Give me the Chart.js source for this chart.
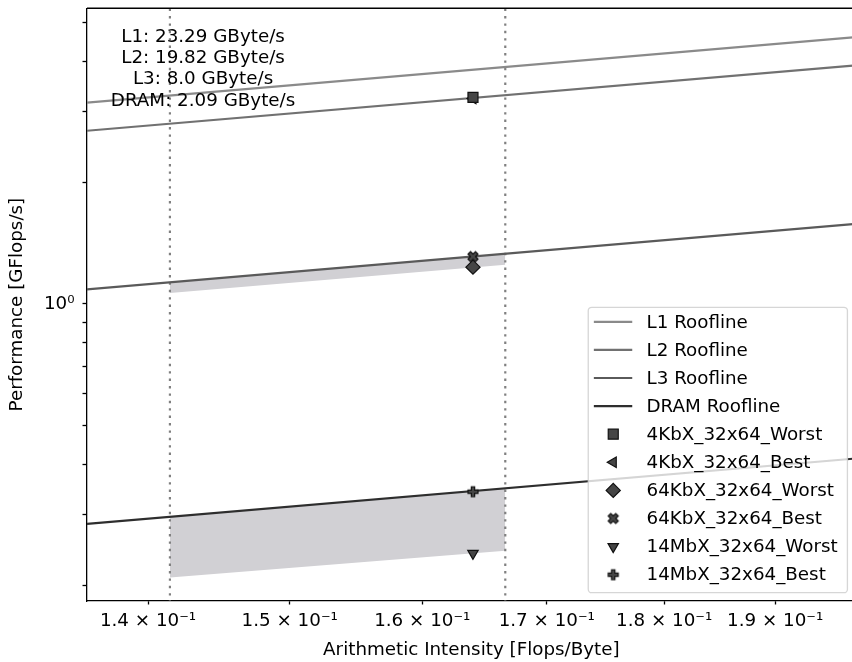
<!DOCTYPE html>
<html>
<head>
<meta charset="utf-8">
<script src="https://cdn.jsdelivr.net/npm/chart.js@4.4.1/dist/chart.umd.min.js"></script>
<style>
html, body { margin: 0; padding: 0; overflow: hidden; background: #fff; }
canvas { display: block; }
</style>
</head>
<body>
<canvas id="roofline" width="864" height="662" style="width:864px;height:662px"></canvas>
<script>
const FONT = 'DejaVu Sans';
const FS = 18.3;

// axes
const xMin = 0.1359, xMax = 0.1976;
const yMin = 0.1827, yMax = 5.43;
const xTickValues = [0.14, 0.15, 0.16, 0.17, 0.18, 0.19];
const xTickLabels = ['1.4 × 10⁻¹', '1.5 × 10⁻¹', '1.6 × 10⁻¹', '1.7 × 10⁻¹', '1.8 × 10⁻¹', '1.9 × 10⁻¹'];
const yTickValues = [0.2, 0.3, 0.4, 0.5, 0.6, 0.7, 0.8, 0.9, 1, 2, 3, 4, 5];
const yTickLabels = ['', '', '', '', '', '', '', '', '10⁰', '', '', '', ''];

// rooflines (performance at both ends of the x axis)
const roofNames = ['L1 Roofline', 'L2 Roofline', 'L3 Roofline', 'DRAM Roofline'];
const roofColors = ['#8a8a8a', '#717171', '#5a5a5a', '#2e2e2e'];
const roofX = [0.1359, 0.1976];
const roofL1 = [3.165, 4.602];
const roofL2 = [2.694, 3.916];
const roofL3 = [1.087, 1.581];
const roofDRAM = [0.284, 0.413];
const bandwidthText = ['L1: 23.29 GByte/s', 'L2: 19.82 GByte/s', 'L3: 8.0 GByte/s', 'DRAM: 2.09 GByte/s'];
const noteX = 0.1438;

// intensity range (dotted lines) and shaded best/worst bands
const rangeX = [0.1415, 0.1666];
const band64Best = [1.132, 1.333];
const band64Worst = [1.065, 1.251];
const band14Best = [0.2957, 0.3482];
const band14Worst = [0.209, 0.2435];

// measured kernels
const kernelNames = ['4KbX_32x64_Worst', '4KbX_32x64_Best', '64KbX_32x64_Worst', '64KbX_32x64_Best', '14MbX_32x64_Worst', '14MbX_32x64_Best'];
const kernelAI = [0.1640, 0.1640, 0.1640, 0.1640, 0.1640, 0.1640];
const kernelPerf = [3.26, 3.24, 1.234, 1.311, 0.240, 0.3415];

const markerFill = '#454545', markerEdge = '#111111';

function filledMarker(pts, scale) {
    const c = document.createElement('canvas');
    c.width = 14; c.height = 14;
    const g = c.getContext('2d');
    g.translate(7, 7);
    g.beginPath();
    pts.forEach(function(p, i) {
        if (i) g.lineTo(p[0] * scale, p[1] * scale); else g.moveTo(p[0] * scale, p[1] * scale);
    });
    g.closePath();
    g.fillStyle = markerFill;
    g.fill();
    g.lineWidth = 1.2;
    g.strokeStyle = markerEdge;
    g.stroke();
    return c;
}
const xFilled = filledMarker([[-1, -2], [0, -1], [1, -2], [2, -1], [1, 0], [2, 1], [1, 2], [0, 1], [-1, 2], [-2, 1], [-1, 0], [-2, -1]], 2.5);
const plusFilled = filledMarker([[-1, -3], [1, -3], [1, -1], [3, -1], [3, 1], [1, 1], [1, 3], [-1, 3], [-1, 1], [-3, 1], [-3, -1], [-1, -1]], 1.667);

const kernelStyles = [
    { pointStyle: 'rect', radius: 7.07, rotation: 0 },
    { pointStyle: 'triangle', radius: 6, rotation: -90 },
    { pointStyle: 'rectRot', radius: 7.07, rotation: 0 },
    { pointStyle: xFilled, radius: 5, rotation: 0 },
    { pointStyle: 'triangle', radius: 6, rotation: 180 },
    { pointStyle: plusFilled, radius: 5, rotation: 0 },
];

function pts(xs, ys) {
    return xs.map(function(x, i) { return { x: x, y: ys[i] }; });
}

const datasets = [];
kernelNames.forEach(function(name, i) {
    datasets.push({
        label: name,
        data: [{ x: kernelAI[i], y: kernelPerf[i] }],
        showLine: false,
        order: 0,
        pointStyle: kernelStyles[i].pointStyle,
        pointRadius: kernelStyles[i].radius,
        pointRotation: kernelStyles[i].rotation,
        pointBackgroundColor: markerFill,
        pointBorderColor: markerEdge,
        pointBorderWidth: 1.2,
    });
});
[roofL1, roofL2, roofL3, roofDRAM].forEach(function(vals, i) {
    datasets.push({
        label: roofNames[i],
        data: pts(roofX, vals),
        borderColor: roofColors[i],
        borderWidth: 2.2,
        pointRadius: 0,
        fill: false,
        order: 1,
    });
});
rangeX.forEach(function(x) {
    datasets.push({
        label: '',
        data: [{ x: x, y: yMin * 0.8 }, { x: x, y: yMax * 1.2 }],
        borderColor: '#808080',
        borderWidth: 2.2,
        borderDash: [2.4, 5],
        pointRadius: 0,
        fill: false,
        order: 2,
    });
});
[[band64Worst, band64Best], [band14Worst, band14Best]].forEach(function(b) {
    datasets.push({ label: '', data: pts(rangeX, b[0]), borderWidth: 0, pointRadius: 0, fill: false, order: 3 });
    datasets.push({ label: '', data: pts(rangeX, b[1]), borderWidth: 0, pointRadius: 0, fill: '-1', backgroundColor: '#d1d0d4', order: 3 });
});

const overlay = {
    id: 'overlay',
    afterDraw(chart) {
        const ctx = chart.ctx, a = chart.chartArea;
        ctx.save();
        // top and right spines
        ctx.strokeStyle = '#000';
        ctx.lineWidth = 1.3;
        ctx.beginPath();
        ctx.moveTo(a.left, a.top);
        ctx.lineTo(a.right, a.top);
        ctx.lineTo(a.right, a.bottom);
        ctx.stroke();

        // bandwidth notes
        ctx.font = FS + 'px "' + FONT + '"';
        ctx.fillStyle = '#000';
        ctx.textAlign = 'center';
        ctx.textBaseline = 'middle';
        const nx = chart.scales.x.getPixelForValue(noteX);
        bandwidthText.forEach(function(t, i) { ctx.fillText(t, nx, a.top + 28.5 + i * 21.4); });

        // legend
        const items = roofNames.map(function(n, i) { return { text: n, color: roofColors[i] }; })
            .concat(kernelNames.map(function(n, i) { return { text: n, marker: kernelStyles[i] }; }));
        let tw = 0;
        items.forEach(function(it) { tw = Math.max(tw, ctx.measureText(it.text).width); });
        const rowH = 28.1;
        const w = 58.3 + tw + 9.7;
        const h = 14.5 + (items.length - 1) * rowH + 18;
        const fx = a.right - 8.3 - w, fy = a.bottom - 8.3 - h;
        ctx.beginPath();
        ctx.roundRect(fx, fy, w, h, 3.5);
        ctx.fillStyle = 'rgba(255,255,255,0.8)';
        ctx.fill();
        ctx.strokeStyle = 'rgba(204,204,204,0.8)';
        ctx.lineWidth = 1.3;
        ctx.stroke();
        ctx.textAlign = 'left';
        items.forEach(function(it, i) {
            const y = fy + 14.5 + i * rowH;
            if (it.color) {
                ctx.strokeStyle = it.color;
                ctx.lineWidth = 2.2;
                ctx.beginPath();
                ctx.moveTo(fx + 5.6, y);
                ctx.lineTo(fx + 44, y);
                ctx.stroke();
            } else {
                ctx.fillStyle = markerFill;
                ctx.strokeStyle = markerEdge;
                ctx.lineWidth = 1.2;
                Chart.helpers.drawPoint(ctx, {
                    pointStyle: it.marker.pointStyle,
                    radius: it.marker.radius,
                    rotation: it.marker.rotation,
                    borderWidth: 1.2,
                }, fx + 25, y);
            }
            ctx.fillStyle = '#000';
            ctx.fillText(it.text, fx + 58.3, y + 1);
        });
        ctx.restore();
    }
};

Chart.defaults.font.family = FONT;
Chart.defaults.font.size = FS;
Chart.defaults.color = '#000';

new Chart(document.getElementById('roofline'), {
    type: 'line',
    data: { datasets: datasets },
    options: {
        responsive: false,
        animation: false,
        layout: { padding: { top: 4.7, left: 0, right: 1, bottom: 0 } },
        plugins: { legend: { display: false }, tooltip: { enabled: false } },
        scales: {
            x: {
                type: 'logarithmic',
                min: xMin,
                max: xMax,
                afterBuildTicks: function(s) { s.ticks = xTickValues.map(function(v) { return { value: v }; }); },
                afterFit: function(s) { s.height = 61; s.paddingLeft = 0; s.paddingRight = 0; },
                grid: { drawOnChartArea: false, drawTicks: true, tickLength: 3.5, tickWidth: 1.3, tickColor: '#000' },
                border: { display: true, color: '#000', width: 1.3 },
                ticks: {
                    autoSkip: false,
                    maxRotation: 0,
                    padding: 6,
                    callback: function(v) {
                        const i = xTickValues.indexOf(v);
                        return i >= 0 ? xTickLabels[i] : '';
                    }
                },
                title: { display: true, text: 'Arithmetic Intensity [Flops/Byte]', padding: { top: 0, bottom: 1 } }
            },
            y: {
                type: 'logarithmic',
                min: yMin,
                max: yMax,
                afterBuildTicks: function(s) { s.ticks = yTickValues.map(function(v) { return { value: v }; }); },
                afterFit: function(s) { s.width = 87; s.paddingTop = 0; s.paddingBottom = 0; },
                grid: { drawOnChartArea: false, drawTicks: true, tickLength: 4.5, tickWidth: 1.3, tickColor: '#000' },
                border: { display: true, color: '#000', width: 1.3 },
                ticks: {
                    autoSkip: false,
                    padding: 8,
                    callback: function(v) {
                        const i = yTickValues.indexOf(v);
                        return i >= 0 ? yTickLabels[i] : '';
                    }
                },
                title: { display: true, text: 'Performance [GFlops/s]', padding: { top: 6, bottom: 0 } }
            }
        }
    },
    plugins: [overlay]
});
</script>
</body>
</html>
